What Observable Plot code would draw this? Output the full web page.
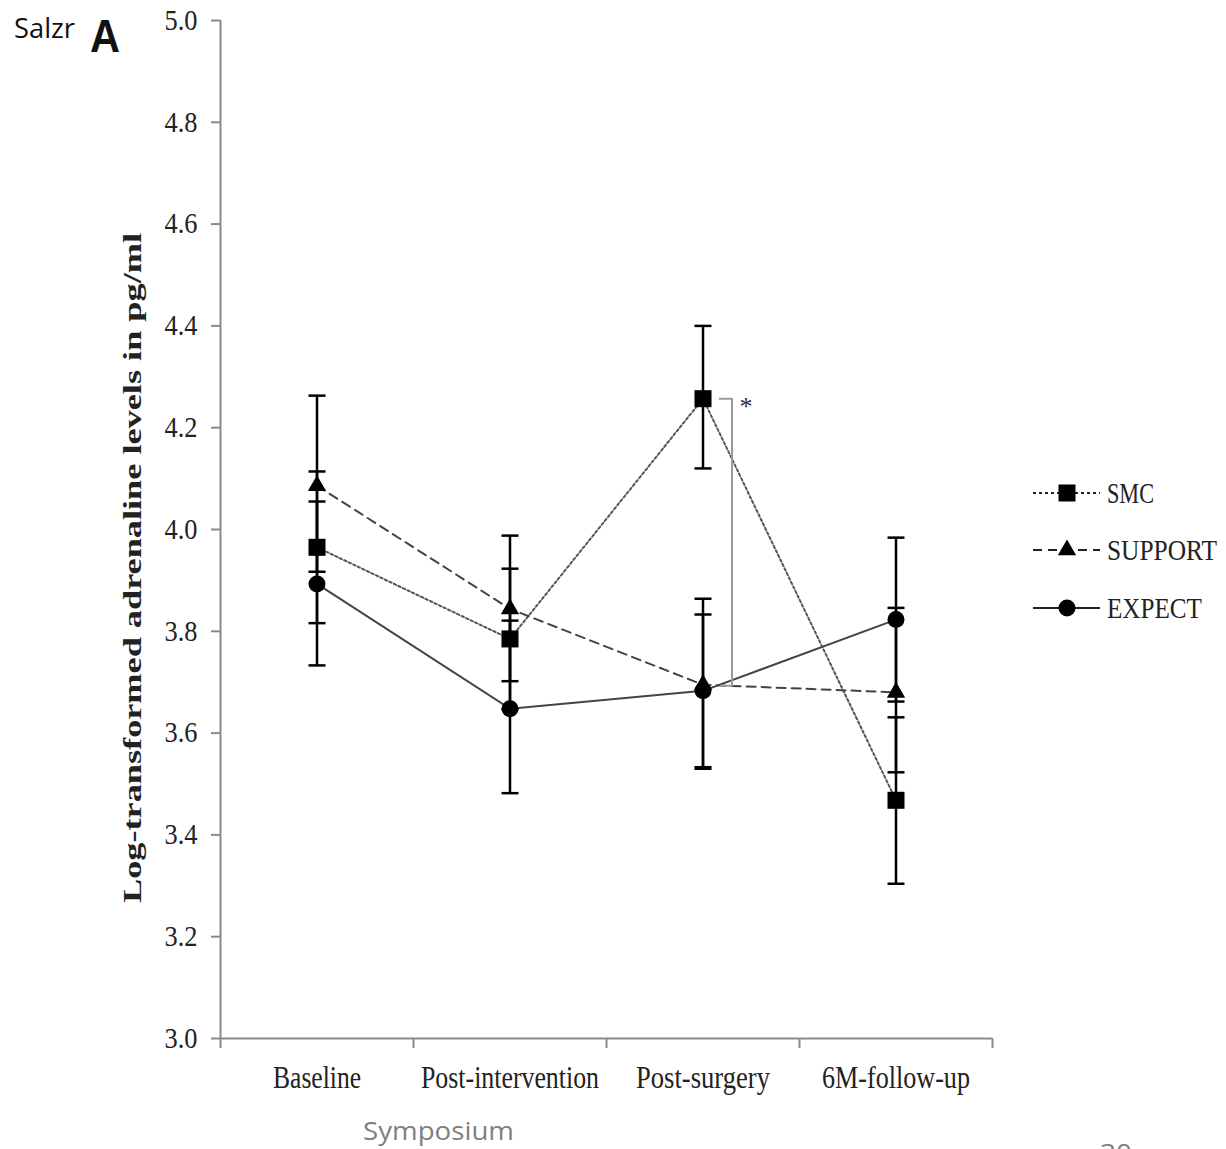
<!DOCTYPE html>
<html><head><meta charset="utf-8">
<script src="https://cdn.jsdelivr.net/npm/d3@7"></script>
<script src="https://cdn.jsdelivr.net/npm/@observablehq/plot@0.6"></script>
<style>html,body{margin:0;padding:0;background:#fff;overflow:hidden}</style>
</head><body><div id="chart"></div>
<script>
// ---- data ----
const categories = ["Baseline", "Post-intervention", "Post-surgery", "6M-follow-up"];
const seriesNames = ["SMC", "SUPPORT", "EXPECT"];
const smcMean = [3.965, 3.785, 4.257, 3.468];
const smcLow = [3.816, 3.647, 4.120, 3.304];
const smcHigh = [4.114, 3.923, 4.400, 3.631];
const supportMean = [4.086, 3.844, 3.695, 3.680];
const supportLow = [3.917, 3.702, 3.530, 3.523];
const supportHigh = [4.263, 3.988, 3.864, 3.846];
const expectMean = [3.893, 3.648, 3.683, 3.823];
const expectLow = [3.733, 3.482, 3.533, 3.662];
const expectHigh = [4.055, 3.821, 3.833, 3.984];
const yTicks = [3.0, 3.2, 3.4, 3.6, 3.8, 4.0, 4.2, 4.4, 4.6, 4.8, 5.0];
const yLabel = "Log-transformed adrenaline levels in pg/ml";
const sigCategory = "Post-surgery";
const sigTop = 4.257;
const sigBottom = 3.693;
const sigLabel = "*";

// ---- styles / layout ----
const styles = {
  SMC: {symbol: "square", r: 9.6, dash: "2.5,2.5", legendDash: "3,3", stroke: "#555", d3sym: d3.symbolSquare},
  SUPPORT: {symbol: "triangle", r: 6.8, dash: "9,6", legendDash: "9,6", stroke: "#444", d3sym: d3.symbolTriangle},
  EXPECT: {symbol: "circle", r: 8.5, dash: null, legendDash: null, stroke: "#444", d3sym: d3.symbolCircle}
};
const labelWidths = {"Baseline": 88, "Post-intervention": 178, "Post-surgery": 134, "6M-follow-up": 148};
const legendWidths = {SMC: 47, SUPPORT: 110, EXPECT: 95};
const axisGray = "#8a8a8a";

const raw = {
  SMC: [smcMean, smcLow, smcHigh],
  SUPPORT: [supportMean, supportLow, supportHigh],
  EXPECT: [expectMean, expectLow, expectHigh]
};
const catPos = c => categories.indexOf(c) + 0.5;
const rows = seriesNames.flatMap(s => categories.map((c, i) => ({
  series: s, cat: c, pos: catPos(c),
  mean: raw[s][0][i], low: raw[s][1][i], high: raw[s][2][i]
})));

const capSymbol = {draw(ctx, size) { const w = Math.sqrt(size / Math.PI); ctx.moveTo(-w, 0); ctx.lineTo(w, 0); }};

function bracketCurve(context) {
  let pts = [];
  return {
    areaStart() {}, areaEnd() {},
    lineStart() { pts = []; },
    point(x, y) { pts.push([x, y]); },
    lineEnd() {
      const [a, b] = pts;
      context.moveTo(a[0] + 16, a[1]);
      context.lineTo(a[0] + 29, a[1]);
      context.lineTo(a[0] + 29, b[1]);
      context.lineTo(a[0] + 17, b[1]);
    }
  };
}

const chart = Plot.plot({
  width: 1226,
  height: 1149,
  marginLeft: 220,
  marginRight: 234,
  marginTop: 20,
  marginBottom: 111,
  style: {fontFamily: "Liberation Serif", fontSize: "29px", color: "#222", background: "#fff"},
  x: {type: "linear", domain: [0, categories.length], label: null},
  y: {type: "linear", domain: [3, 5], label: null},
  marks: [
    Plot.ruleX([0], {y1: 3, y2: 5, stroke: axisGray, strokeWidth: 2}),
    Plot.ruleY([3], {x1: 0, x2: categories.length, stroke: axisGray, strokeWidth: 2}),
    Plot.axisY({ticks: yTicks, tickFormat: d3.format(".1f"), tickSize: 9, tickPadding: 14, stroke: axisGray, strokeWidth: 2}),
    Plot.axisX({ticks: d3.range(categories.length + 1), tickFormat: () => "", tickSize: 10, stroke: axisGray, strokeWidth: 2}),
    Plot.axisX({ticks: categories.map(catPos), tickFormat: d => categories[Math.floor(d)], tickSize: 0, tickPadding: 27}),
    ...seriesNames.map(s => Plot.line(rows.filter(d => d.series === s), {
      x: "pos", y: "mean", stroke: styles[s].stroke, strokeWidth: 2, strokeDasharray: styles[s].dash
    })),
    Plot.link([0], {x1: catPos(sigCategory), x2: catPos(sigCategory), y1: sigTop, y2: sigBottom,
      curve: bracketCurve, stroke: "#9a9a9a", strokeWidth: 2}),
    Plot.text([sigLabel], {x: catPos(sigCategory), y: sigTop, text: d => d, dx: 43, dy: 8,
      fontSize: 26, fontFamily: "Liberation Serif", fill: "#2a2a4a"}),
    Plot.ruleX(rows, {x: "pos", y1: "low", y2: "high", stroke: "#000", strokeWidth: 2.5}),
    Plot.dot(rows, {x: "pos", y: "low", symbol: capSymbol, r: 8.5, stroke: "#000", fill: "none", strokeWidth: 2.5}),
    Plot.dot(rows, {x: "pos", y: "high", symbol: capSymbol, r: 8.5, stroke: "#000", fill: "none", strokeWidth: 2.5}),
    ...seriesNames.map(s => Plot.dot(rows.filter(d => d.series === s), {
      x: "pos", y: "mean", symbol: styles[s].symbol, r: styles[s].r, fill: "#000", stroke: "none"
    }))
  ]
});
document.getElementById("chart").appendChild(chart);

// ---- text styling ----
const svg = d3.select(chart);
svg.selectAll('g[aria-label="y-axis tick"]').attr("stroke", axisGray);
svg.selectAll('g[aria-label="x-axis tick"]').attr("stroke", axisGray);
svg.selectAll('g[aria-label="y-axis tick label"] text')
  .attr("font-size", 29).attr("fill", "#222")
  .attr("textLength", 33).attr("lengthAdjust", "spacingAndGlyphs");
svg.selectAll('g[aria-label="x-axis tick label"] text').each(function() {
  const t = d3.select(this), s = t.text();
  if (labelWidths[s]) {
    t.attr("font-size", 31).attr("fill", "#222")
      .attr("textLength", labelWidths[s]).attr("lengthAdjust", "spacingAndGlyphs");
  }
});

// ---- y axis title ----
svg.append("text")
  .attr("transform", "translate(141,568) rotate(-90)")
  .attr("text-anchor", "middle")
  .attr("font-family", "Liberation Serif").attr("font-weight", "bold").attr("font-size", 26)
  .attr("fill", "#222")
  .attr("textLength", 670).attr("lengthAdjust", "spacingAndGlyphs")
  .text(yLabel);

// ---- legend ----
const legendRows = [493, 550, 608];
seriesNames.forEach((s, k) => {
  const y = legendRows[k];
  const g = svg.append("g");
  g.append("line").attr("x1", 1033).attr("x2", 1100).attr("y1", y).attr("y2", y)
    .attr("stroke", "#222").attr("stroke-width", 2)
    .attr("stroke-dasharray", styles[s].legendDash);
  g.append("path")
    .attr("d", d3.symbol(styles[s].d3sym, Math.PI * styles[s].r * styles[s].r)())
    .attr("transform", `translate(1067,${y})`).attr("fill", "#000");
  const t = g.append("text").attr("x", 0).attr("y", 0).attr("text-anchor", "start")
    .attr("font-family", "Liberation Serif").attr("font-size", 30).attr("fill", "#222")
    .text(s);
  const natural = t.node().getComputedTextLength() || legendWidths[s];
  t.attr("transform", `translate(1107,${y + 10}) scale(${legendWidths[s] / natural},1)`);
});

// ---- slide overlay texts ----
const sans = "Open Sans, Liberation Sans, sans-serif";
svg.append("text").attr("x", 14).attr("y", 38).attr("text-anchor", "start")
  .attr("font-family", sans).attr("font-size", 27).attr("fill", "#111")
  .attr("textLength", 61).attr("lengthAdjust", "spacingAndGlyphs").text("Salzr");
svg.append("text").attr("x", 90).attr("y", 52).attr("text-anchor", "start")
  .attr("font-family", "Liberation Sans, sans-serif").attr("font-weight", "bold").attr("font-size", 47).attr("fill", "#111")
  .attr("textLength", 30).attr("lengthAdjust", "spacingAndGlyphs").text("A");
svg.append("text").attr("x", 363).attr("y", 1140).attr("text-anchor", "start")
  .attr("font-family", sans).attr("font-size", 25).attr("fill", "#7f7f7f")
  .attr("textLength", 151).attr("lengthAdjust", "spacingAndGlyphs").text("Symposium");
svg.append("text").attr("x", 1100).attr("y", 1162).attr("text-anchor", "start")
  .attr("font-family", sans).attr("font-size", 25).attr("fill", "#7f7f7f")
  .attr("textLength", 32).attr("lengthAdjust", "spacingAndGlyphs").text("30");
</script>
</body></html>
